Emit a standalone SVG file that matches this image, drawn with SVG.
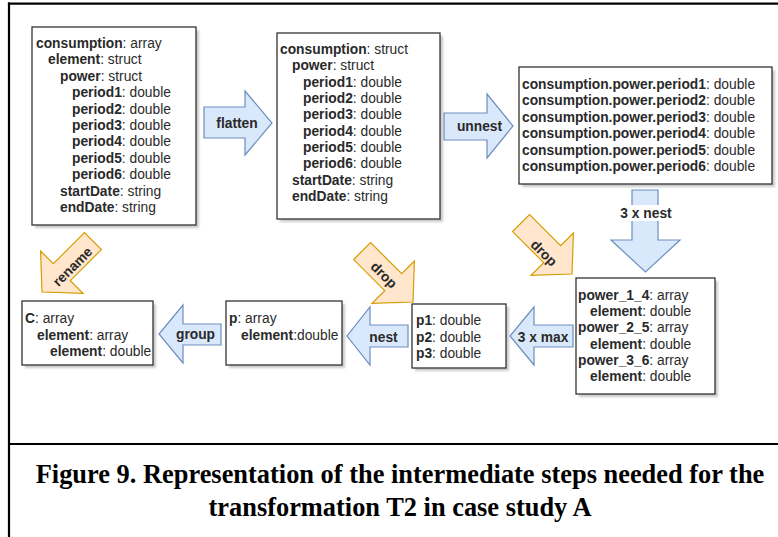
<svg xmlns="http://www.w3.org/2000/svg" width="778" height="537" viewBox="0 0 778 537">
<style>
.frame{stroke:#000;stroke-width:2.2;fill:none}
.box{fill:#fff;stroke:#333;stroke-width:1.3}
.sh{fill:#8a8a8a;opacity:0.45}
.t{font-family:"Liberation Sans",Arial,sans-serif;font-size:13.8px;fill:#2a2a2a}
.b{font-weight:bold}
.blue{fill:#dae8fc;stroke:#6c8ebf;stroke-width:1.2}
.orange{fill:#ffe6cc;stroke:#d79b00;stroke-width:1.2}
.lbl{font-family:"Liberation Sans",Arial,sans-serif;font-size:13.8px;font-weight:bold;fill:#2a2a2a;text-anchor:middle}
.cap{font-family:"Liberation Serif","Times New Roman",serif;font-size:26.4px;font-weight:bold;fill:#000;text-anchor:middle}
</style>
<defs>
<polygon id="oa" points="0,0 -28,-30 -28,-12 -72,-12 -72,12 -28,12 -28,30"/>
<filter id="blur" x="-5%" y="-5%" width="110%" height="110%"><feGaussianBlur stdDeviation="0.8"/></filter>
</defs>
<rect width="778" height="537" fill="#fff"/>
<g id="frame">
<line class="frame" x1="7.9" y1="3.6" x2="778" y2="3.6"/>
<line class="frame" x1="9" y1="2.5" x2="9" y2="537"/>
<line class="frame" x1="9" y1="444" x2="778" y2="444"/>
</g>
<g id="connectors">
<g id="flatten"><polygon class="blue" points="204,107 245,107 245,91 272,123 245,155 245,138 204,138"/><text class="lbl" x="237" y="128">flatten</text></g>
<g id="unnest"><polygon class="blue" points="444,113 487,113 487,94 513,126 487,158 487,140 444,140"/><text class="lbl" x="479.5" y="131">unnest</text></g>
<g id="nest3"><polygon class="blue" points="632,190 658,190 658,240 680,240 645.5,272 611,240 632,240"/><rect x="618" y="205" width="56" height="16" fill="#fff"/><text class="lbl" x="646" y="218">3 x nest</text></g>
<g id="max3"><polygon class="blue" points="573,325 534,325 534,307 510,336 534,365 534,347 573,347"/><text class="lbl" x="543" y="342">3 x max</text></g>
<g id="nest"><polygon class="blue" points="408,325 370,325 370,307 347,336 370,365 370,347 408,347"/><text class="lbl" x="383.5" y="342">nest</text></g>
<g id="group"><polygon class="blue" points="221,324 183,324 183,305 159,334 183,363 183,345 221,345"/><text class="lbl" x="195.5" y="339">group</text></g>
<g id="rename"><use href="#oa" class="orange" transform="translate(42,292) rotate(135)"/><text class="lbl" x="72.5" y="266.5" dy="0.35em" transform="rotate(-45 72.5 266.5)">rename</text></g>
<g id="drop1"><use href="#oa" class="orange" transform="translate(413,302) rotate(45)"/><text class="lbl" x="384" y="275" dy="0.35em" transform="rotate(45 384 275)">drop</text></g>
<g id="drop2"><use href="#oa" class="orange" transform="translate(572,274) rotate(45)"/><text class="lbl" x="544" y="253" dy="0.35em" transform="rotate(45 544 253)">drop</text></g>
</g>
<g id="box1">
<rect class="sh" x="35" y="30" width="164" height="198" filter="url(#blur)"/>
<rect class="box" x="32" y="27" width="164" height="198"/>
<text class="t" x="36" y="48"><tspan class="b">consumption</tspan>: array</text>
<text class="t" x="48" y="64.4"><tspan class="b">element</tspan>: struct</text>
<text class="t" x="60" y="80.8"><tspan class="b">power</tspan>: struct</text>
<text class="t" x="72" y="97.2"><tspan class="b">period1</tspan>: double</text>
<text class="t" x="72" y="113.6"><tspan class="b">period2</tspan>: double</text>
<text class="t" x="72" y="130"><tspan class="b">period3</tspan>: double</text>
<text class="t" x="72" y="146.4"><tspan class="b">period4</tspan>: double</text>
<text class="t" x="72" y="162.8"><tspan class="b">period5</tspan>: double</text>
<text class="t" x="72" y="179.2"><tspan class="b">period6</tspan>: double</text>
<text class="t" x="60" y="195.6"><tspan class="b">startDate</tspan>: string</text>
<text class="t" x="60" y="212"><tspan class="b">endDate</tspan>: string</text>
</g>
<g id="box2">
<rect class="sh" x="280" y="36" width="163" height="186" filter="url(#blur)"/>
<rect class="box" x="277" y="33" width="163" height="186"/>
<text class="t" x="280" y="54"><tspan class="b">consumption</tspan>: struct</text>
<text class="t" x="292" y="70.3"><tspan class="b">power</tspan>: struct</text>
<text class="t" x="303" y="86.7"><tspan class="b">period1</tspan>: double</text>
<text class="t" x="303" y="103"><tspan class="b">period2</tspan>: double</text>
<text class="t" x="303" y="119.3"><tspan class="b">period3</tspan>: double</text>
<text class="t" x="303" y="135.7"><tspan class="b">period4</tspan>: double</text>
<text class="t" x="303" y="152"><tspan class="b">period5</tspan>: double</text>
<text class="t" x="303" y="168.3"><tspan class="b">period6</tspan>: double</text>
<text class="t" x="292" y="184.7"><tspan class="b">startDate</tspan>: string</text>
<text class="t" x="292" y="201"><tspan class="b">endDate</tspan>: string</text>
</g>
<g id="box3">
<rect class="sh" x="522" y="70" width="253" height="117" filter="url(#blur)"/>
<rect class="box" x="519" y="67" width="253" height="117"/>
<text class="t" x="522" y="89"><tspan class="b">consumption.power.period1</tspan>: double</text>
<text class="t" x="522" y="105.4"><tspan class="b">consumption.power.period2</tspan>: double</text>
<text class="t" x="522" y="121.8"><tspan class="b">consumption.power.period3</tspan>: double</text>
<text class="t" x="522" y="138.2"><tspan class="b">consumption.power.period4</tspan>: double</text>
<text class="t" x="522" y="154.6"><tspan class="b">consumption.power.period5</tspan>: double</text>
<text class="t" x="522" y="171"><tspan class="b">consumption.power.period6</tspan>: double</text>
</g>
<g id="box4">
<rect class="sh" x="579" y="281" width="139" height="116" filter="url(#blur)"/>
<rect class="box" x="576" y="278" width="139" height="116"/>
<text class="t" x="578" y="300"><tspan class="b">power_1_4</tspan>: array</text>
<text class="t" x="590" y="316.2"><tspan class="b">element</tspan>: double</text>
<text class="t" x="578" y="332.4"><tspan class="b">power_2_5</tspan>: array</text>
<text class="t" x="590" y="348.6"><tspan class="b">element</tspan>: double</text>
<text class="t" x="578" y="364.8"><tspan class="b">power_3_6</tspan>: array</text>
<text class="t" x="590" y="381"><tspan class="b">element</tspan>: double</text>
</g>
<g id="box5">
<rect class="sh" x="415" y="307" width="94" height="64" filter="url(#blur)"/>
<rect class="box" x="412" y="304" width="94" height="64"/>
<text class="t" x="416" y="325"><tspan class="b">p1</tspan>: double</text>
<text class="t" x="416" y="341.5"><tspan class="b">p2</tspan>: double</text>
<text class="t" x="416" y="358"><tspan class="b">p3</tspan>: double</text>
</g>
<g id="box6">
<rect class="sh" x="25" y="304" width="131" height="64" filter="url(#blur)"/>
<rect class="box" x="22" y="301" width="131" height="64"/>
<text class="t" x="25" y="323"><tspan class="b">C</tspan>: array</text>
<text class="t" x="37" y="339.5"><tspan class="b">element</tspan>: array</text>
<text class="t" x="50" y="356"><tspan class="b">element</tspan>: double</text>
</g>
<g id="box7">
<rect class="sh" x="229" y="304" width="116" height="64" filter="url(#blur)"/>
<rect class="box" x="226" y="301" width="116" height="64"/>
<text class="t" x="229" y="323"><tspan class="b">p</tspan>: array</text>
<text class="t" x="241" y="339.5"><tspan class="b">element</tspan>:double</text>
</g>
<g id="caption">
<text class="cap" x="400" y="483">Figure 9. Representation of the intermediate steps needed for the</text>
<text class="cap" x="400" y="516">transformation T2 in case study A</text>
</g>
</svg>
